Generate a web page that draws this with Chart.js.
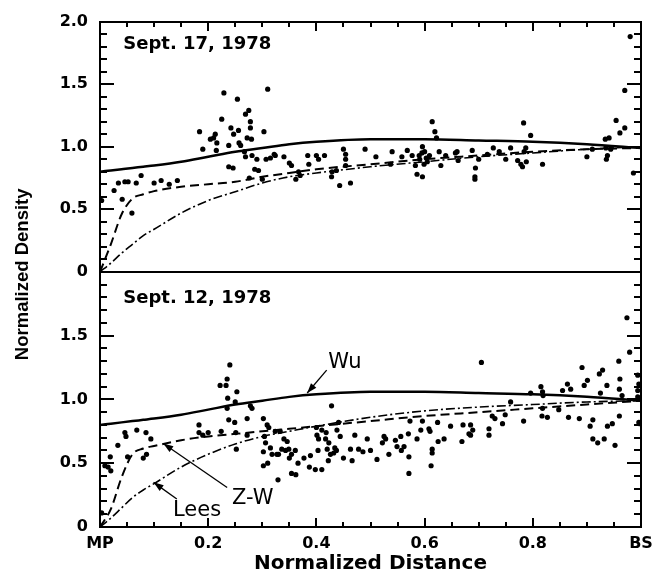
<!DOCTYPE html>
<html>
<head>
<meta charset="utf-8">
<script src="https://cdn.jsdelivr.net/npm/chart.js@4"></script>
<style>
    html, body { margin: 0; padding: 0; background: #fff; }
    #wrap { width: 661px; height: 576px; }
</style>
</head>
<body>
<div id="wrap"><canvas id="densityChart" width="661" height="576"></canvas></div>
<script>
// ----------------------------------------------------
// Data
// ----------------------------------------------------
const xTickLabels = ['MP', '0.2', '0.4', '0.6', '0.8', 'BS'];
const panelLabels = ['Sept. 17, 1978', 'Sept. 12, 1978'];

// model curves (same distance grid for all)
const curveDist = [0, 0.02, 0.04, 0.06, 0.08, 0.1, 0.15, 0.2, 0.25, 0.3, 0.35, 0.4, 0.5, 0.6, 0.7, 0.8, 0.9, 1.0];
const wuCurve   = [0.80, 0.81, 0.82, 0.83, 0.84, 0.85, 0.88, 0.92, 0.96, 0.99, 1.02, 1.04, 1.06, 1.06, 1.05, 1.04, 1.02, 0.99];
const zwSep17   = [0.00, 0.22, 0.46, 0.585, 0.62, 0.645, 0.68, 0.70, 0.72, 0.76, 0.79, 0.82, 0.86, 0.90, 0.93, 0.96, 0.98, 0.99];
const leesSep17 = [0.00, 0.07, 0.15, 0.22, 0.29, 0.34, 0.47, 0.57, 0.64, 0.71, 0.76, 0.79, 0.84, 0.88, 0.92, 0.95, 0.98, 1.00];
const zwSep12   = [0.00, 0.14, 0.39, 0.57, 0.615, 0.635, 0.68, 0.71, 0.73, 0.75, 0.77, 0.79, 0.83, 0.87, 0.90, 0.93, 0.96, 0.99];
const leesSep12 = [0.00, 0.07, 0.15, 0.23, 0.29, 0.34, 0.47, 0.57, 0.65, 0.71, 0.75, 0.79, 0.86, 0.91, 0.94, 0.96, 0.98, 0.99];

// measured points, Sept. 17
const sep17Dist = [0.003, 0.026, 0.034, 0.046, 0.052, 0.041, 0.059, 0.067, 0.076, 0.100, 0.113, 0.128, 0.143,
    0.184, 0.190, 0.204, 0.210, 0.213, 0.216, 0.215, 0.229, 0.225, 0.238, 0.242, 0.247, 0.254, 0.256, 0.257, 0.260,
    0.269, 0.275, 0.278, 0.278, 0.272, 0.280, 0.267, 0.269, 0.281, 0.290, 0.238, 0.246, 0.286, 0.293, 0.303, 0.310,
    0.307, 0.315, 0.322, 0.300, 0.276, 0.324, 0.340, 0.350, 0.354, 0.367, 0.362, 0.370, 0.384, 0.386, 0.400, 0.415,
    0.404, 0.429, 0.428, 0.437, 0.443, 0.463, 0.450, 0.454, 0.454, 0.454, 0.490, 0.510, 0.540, 0.537, 0.558, 0.568,
    0.577, 0.583, 0.586, 0.596, 0.596, 0.600, 0.591, 0.605, 0.599, 0.609, 0.590, 0.603, 0.595, 0.614, 0.619, 0.622,
    0.627, 0.630, 0.639, 0.657, 0.662, 0.660, 0.688, 0.694, 0.693, 0.693, 0.700, 0.716, 0.727, 0.738, 0.750, 0.759,
    0.772, 0.778, 0.781, 0.784, 0.787, 0.783, 0.796, 0.788, 0.818, 0.900, 0.910, 0.934, 0.941, 0.935, 0.938, 0.936,
    0.944, 0.954, 0.961, 0.970, 0.970, 0.980, 0.986];
const sep17Dens = [0.57, 0.65, 0.71, 0.72, 0.72, 0.58, 0.47, 0.71, 0.77, 0.71, 0.73, 0.70, 0.73,
    1.12, 0.98, 1.06, 1.07, 1.10, 1.03, 0.97, 1.43, 1.22, 1.01, 1.15, 1.10, 1.38, 1.13, 1.03, 1.01,
    1.26, 1.29, 1.20, 1.15, 1.07, 1.06, 0.96, 0.92, 0.93, 0.90, 0.84, 0.83, 0.82, 0.81, 1.12, 1.46,
    0.90, 0.91, 0.94, 0.74, 0.75, 0.93, 0.92, 0.87, 0.85, 0.80, 0.74, 0.77, 0.93, 0.86, 0.93, 0.93,
    0.90, 0.80, 0.76, 0.81, 0.69, 0.71, 0.98, 0.94, 0.90, 0.85, 0.98, 0.92, 0.96, 0.86, 0.92, 0.97,
    0.93, 0.85, 0.78, 0.76, 1.00, 0.96, 0.90, 0.88, 0.86, 0.93, 0.93, 0.91, 0.95, 1.20, 1.12, 1.07,
    0.96, 0.85, 0.93, 0.95, 0.89, 0.96, 0.97, 0.83, 0.76, 0.74, 0.90, 0.94, 0.99, 0.96, 0.90, 0.99,
    0.89, 0.86, 0.84, 0.96, 0.99, 1.19, 1.09, 0.88, 0.86, 0.92, 0.98, 1.06, 1.07, 0.99, 0.93, 0.90,
    0.98, 1.21, 1.11, 1.15, 1.45, 1.88, 0.79];

// measured points, Sept. 12
const sep12Dist = [0.003, 0.009, 0.019, 0.020, 0.015, 0.033, 0.046, 0.048, 0.068, 0.085, 0.094, 0.086, 0.080, 0.051,
    0.183, 0.183, 0.190, 0.200, 0.224, 0.222, 0.233, 0.235, 0.240, 0.235, 0.236, 0.253, 0.250, 0.238, 0.249, 0.251,
    0.252, 0.272, 0.278, 0.281, 0.272, 0.302, 0.309, 0.312, 0.304, 0.306, 0.302, 0.315, 0.318, 0.302, 0.310, 0.327,
    0.329, 0.324, 0.333, 0.340, 0.346, 0.336, 0.343, 0.349, 0.330, 0.350, 0.354, 0.361, 0.366, 0.354, 0.362, 0.377,
    0.389, 0.387, 0.398, 0.410, 0.400, 0.401, 0.410, 0.418, 0.417, 0.404, 0.428, 0.423, 0.438, 0.441, 0.444, 0.434,
    0.437, 0.432, 0.426, 0.420, 0.422, 0.403, 0.450, 0.463, 0.466, 0.471, 0.478, 0.486, 0.494, 0.500, 0.512, 0.525,
    0.528, 0.522, 0.534, 0.546, 0.549, 0.556, 0.557, 0.562, 0.570, 0.571, 0.571, 0.573, 0.586, 0.596, 0.593, 0.608,
    0.610, 0.614, 0.614, 0.612, 0.624, 0.625, 0.636, 0.648, 0.669, 0.705, 0.671, 0.685, 0.689, 0.682, 0.685, 0.719,
    0.719, 0.725, 0.730, 0.744, 0.749, 0.759, 0.783, 0.796, 0.815, 0.818, 0.819, 0.818, 0.817, 0.827, 0.848, 0.855,
    0.864, 0.870, 0.866, 0.886, 0.891, 0.895, 0.901, 0.906, 0.911, 0.911, 0.920, 0.923, 0.929, 0.925, 0.932, 0.937,
    0.938, 0.947, 0.952, 0.960, 0.959, 0.961, 0.960, 0.965, 0.974, 0.979, 0.994, 0.996, 0.994, 0.994, 0.996, 0.998];
const sep12Dens = [0.11, 0.48, 0.55, 0.44, 0.47, 0.64, 0.74, 0.71, 0.76, 0.74, 0.69, 0.57, 0.54, 0.55,
    0.80, 0.74, 0.72, 0.74, 0.75, 1.11, 1.11, 1.16, 1.27, 0.93, 1.01, 1.06, 0.98, 0.84, 0.82, 0.74,
    0.61, 0.85, 0.95, 0.93, 0.72, 0.85, 0.80, 0.78, 0.71, 0.66, 0.59, 0.62, 0.57, 0.48, 0.50, 0.57,
    0.37, 0.75, 0.75, 0.69, 0.67, 0.61, 0.60, 0.61, 0.57, 0.54, 0.57, 0.60, 0.50, 0.42, 0.41, 0.54,
    0.56, 0.47, 0.45, 0.45, 0.78, 0.72, 0.76, 0.74, 0.69, 0.69, 0.95, 0.66, 0.76, 0.82, 0.71, 0.62,
    0.60, 0.58, 0.57, 0.61, 0.52, 0.60, 0.54, 0.61, 0.52, 0.72, 0.61, 0.59, 0.69, 0.60, 0.53, 0.71,
    0.69, 0.66, 0.57, 0.68, 0.63, 0.71, 0.60, 0.63, 0.73, 0.55, 0.42, 0.83, 0.69, 0.83, 0.76, 0.77,
    0.75, 0.61, 0.58, 0.48, 0.82, 0.67, 0.69, 0.79, 0.67, 1.29, 0.80, 0.80, 0.76, 0.73, 0.72, 0.77,
    0.72, 0.87, 0.85, 0.81, 0.88, 0.98, 0.83, 1.05, 1.10, 1.06, 1.03, 0.93, 0.87, 0.86, 0.92, 1.07,
    1.12, 1.08, 0.86, 0.85, 1.25, 1.11, 1.15, 0.79, 0.84, 0.69, 0.66, 1.20, 1.23, 1.05, 0.69, 1.11,
    0.79, 0.81, 0.64, 0.87, 1.30, 1.16, 1.08, 1.03, 1.64, 1.37, 1.19, 1.12, 1.07, 1.02, 0.82, 0.81];

const pts = (xs, ys) => xs.map((x, i) => ({ x: x, y: ys[i] }));

// ----------------------------------------------------
// Dataset helpers
// ----------------------------------------------------
function dots(xs, ys, axis) {
    return {
        data: pts(xs, ys),
        yAxisID: axis,
        pointRadius: 2.6,
        pointBackgroundColor: '#000',
        pointBorderWidth: 0,
        showLine: false
    };
}

function curve(ys, axis, width, dash) {
    return {
        data: pts(curveDist, ys),
        yAxisID: axis,
        showLine: true,
        borderColor: '#000',
        borderWidth: width,
        borderDash: dash,
        pointRadius: 0,
        cubicInterpolationMode: 'monotone',
        fill: false
    };
}

const dashZW = [9, 5];
const dashLees = [9, 3, 2, 3];

// ----------------------------------------------------
// Frame, inward ticks, labels and arrows
// ----------------------------------------------------
const notes = [
    { text: 'Wu',   axis: 'yBot', x: 0.422, y: 1.29, from: [0.419, 1.23], to: [0.383, 1.05] },
    { text: 'Z-W',  axis: 'yBot', x: 0.244, y: 0.224, from: [0.235, 0.31], to: [0.117, 0.655] },
    { text: 'Lees', axis: 'yBot', x: 0.135, y: 0.13, from: [0.142, 0.22], to: [0.099, 0.35] }
];

const framePlugin = {
    id: 'framePlugin',
    afterDraw(chart) {
        const ctx = chart.ctx;
        const xs = chart.scales.x;
        const top = chart.scales.yTop, bot = chart.scales.yBot;
        const L = Math.round(xs.left), R = Math.round(xs.right);
        ctx.save();
        ctx.setLineDash([]);
        ctx.fillStyle = '#000';
        ctx.strokeStyle = '#000';

        // panel boxes
        [top, bot].forEach(ys => {
            const t = Math.round(ys.top), b = Math.round(ys.bottom);
            ctx.fillRect(L - 1, t - 1, R - L + 2, 2);
            ctx.fillRect(L - 1, b - 1, R - L + 2, 2);
            ctx.fillRect(L - 1, t - 1, 2, b - t + 2);
            ctx.fillRect(R - 1, t - 1, 2, b - t + 2);

            // y ticks, every 0.1, longer at 0.5
            for (let k = 1; k < 20; k++) {
                const py = Math.round(ys.getPixelForValue(k / 10));
                const len = k % 5 === 0 ? 14 : 7;
                ctx.fillRect(L, py - 1, len, 2);
                ctx.fillRect(R - len, py - 1, len, 2);
            }
        });

        // x ticks, every 0.05, longer at 0.2
        for (let k = 1; k < 20; k++) {
            const px = Math.round(xs.getPixelForValue(k / 20));
            const len = k % 4 === 0 ? 9 : 5;
            ctx.fillRect(px - 1, Math.round(top.top), 2, len);
            ctx.fillRect(px - 1, Math.round(bot.bottom) - len, 2, len);
        }

        // panel dates
        ctx.font = 'bold 18px "DejaVu Sans"';
        ctx.textAlign = 'left';
        ctx.textBaseline = 'middle';
        ctx.fillText(panelLabels[0], xs.getPixelForValue(0.043), top.getPixelForValue(1.82));
        ctx.fillText(panelLabels[1], xs.getPixelForValue(0.043), bot.getPixelForValue(1.79));

        // curve names with arrows
        ctx.font = '21px "DejaVu Sans"';
        ctx.lineWidth = 1.3;
        notes.forEach(n => {
            const ys = chart.scales[n.axis];
            ctx.fillText(n.text, xs.getPixelForValue(n.x), ys.getPixelForValue(n.y));
            const x0 = xs.getPixelForValue(n.from[0]), y0 = ys.getPixelForValue(n.from[1]);
            const x1 = xs.getPixelForValue(n.to[0]), y1 = ys.getPixelForValue(n.to[1]);
            const a = Math.atan2(y1 - y0, x1 - x0);
            ctx.beginPath();
            ctx.moveTo(x0, y0); ctx.lineTo(x1, y1);
            ctx.stroke();
            ctx.beginPath();
            ctx.moveTo(x1, y1);
            ctx.lineTo(x1 - 10 * Math.cos(a) + 3.5 * Math.sin(a), y1 - 10 * Math.sin(a) - 3.5 * Math.cos(a));
            ctx.lineTo(x1 - 10 * Math.cos(a) - 3.5 * Math.sin(a), y1 - 10 * Math.sin(a) + 3.5 * Math.cos(a));
            ctx.closePath();
            ctx.fill();
        });

        // shared y title
        ctx.translate(23, (top.top + bot.bottom) / 2);
        ctx.rotate(-Math.PI / 2);
        ctx.font = 'bold 18.5px "Liberation Sans"';
        ctx.textAlign = 'center';
        ctx.fillText('Normalized Density', 0, 0);
        ctx.restore();
    }
};

// ----------------------------------------------------
// Chart
// ----------------------------------------------------
Chart.defaults.font.family = '"DejaVu Sans", sans-serif';
Chart.defaults.color = '#000';

const yLabel = v => (v === 0 ? '0' : v.toFixed(1));

function panelAxis(weight, hideTop) {
    return {
        type: 'linear',
        position: 'left',
        stack: 'panels',
        stackWeight: weight,
        min: 0,
        max: 2,
        grid: { display: false, drawTicks: false },
        border: { display: false },
        ticks: {
            stepSize: 0.5,
            padding: 12,
            font: { size: 16, weight: 'bold' },
            callback: v => (hideTop && v >= 2 ? '' : yLabel(v))
        },
        afterFit: s => { s.width = 100; }
    };
}

new Chart(document.getElementById('densityChart'), {
    type: 'scatter',
    data: {
        datasets: [
            dots(sep17Dist, sep17Dens, 'yTop'),
            curve(wuCurve, 'yTop', 2.5, []),
            curve(zwSep17, 'yTop', 2, dashZW),
            curve(leesSep17, 'yTop', 1.6, dashLees),
            dots(sep12Dist, sep12Dens, 'yBot'),
            curve(wuCurve, 'yBot', 2.5, []),
            curve(zwSep12, 'yBot', 2, dashZW),
            curve(leesSep12, 'yBot', 1.6, dashLees)
        ]
    },
    options: {
        responsive: false,
        animation: false,
        devicePixelRatio: 1,
        layout: { padding: { top: 14, right: 20, bottom: 0, left: 0 } },
        plugins: {
            legend: { display: false },
            tooltip: { enabled: false }
        },
        scales: {
            x: {
                type: 'linear',
                position: 'bottom',
                min: 0,
                max: 1,
                grid: { display: false, drawTicks: false },
                border: { display: false },
                ticks: {
                    stepSize: 0.2,
                    padding: 7,
                    maxRotation: 0,
                    font: { size: 16, weight: 'bold' },
                    callback: (v, i) => xTickLabels[i] || ''
                },
                title: {
                    display: true,
                    text: 'Normalized Distance',
                    font: { size: 20, weight: 'bold' },
                    padding: { top: 0, bottom: 0 }
                },
                afterFit: s => { s.height = 49; }
            },
            yBot: panelAxis(259, true),
            yTop: panelAxis(254, false)
        }
    },
    plugins: [framePlugin]
});
</script>
</body>
</html>
